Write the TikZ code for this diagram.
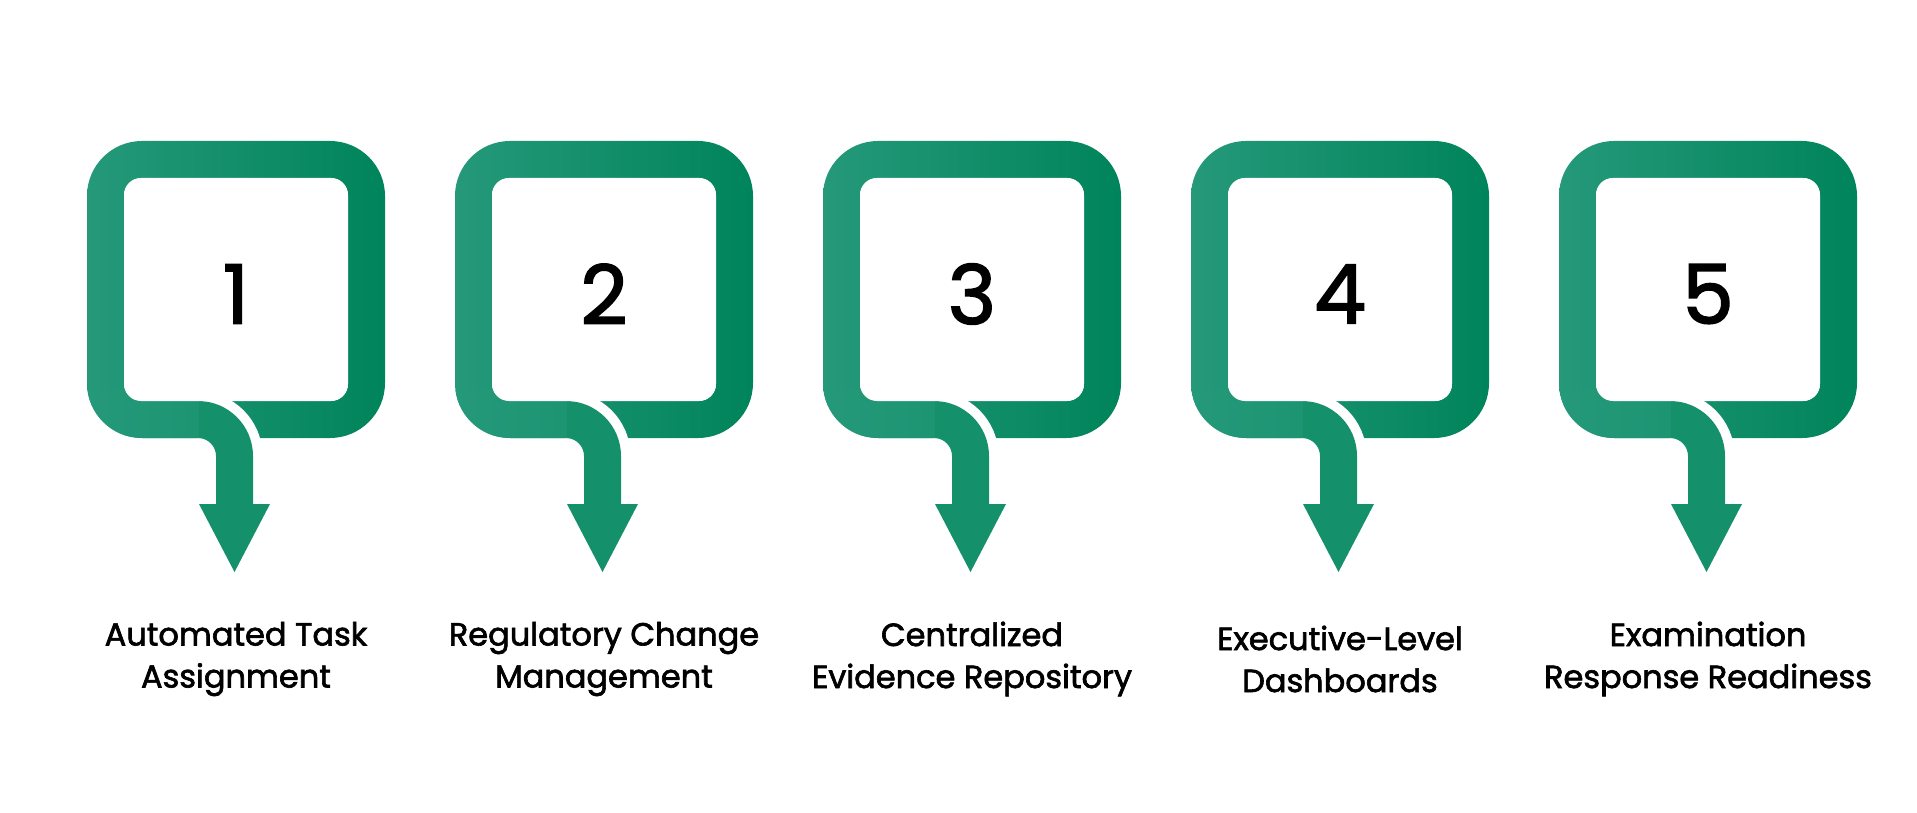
\documentclass[tikz,border=0pt]{standalone}
\usepackage{fontspec}
\setmainfont{Poppins}
\newfontfamily\lblfont{Poppins}[FakeBold=2]
\definecolor{gL}{HTML}{25997A}
\definecolor{gR}{HTML}{00845A}
\definecolor{gM}{HTML}{14906A}
\begin{document}
\begin{tikzpicture}[x=1pt,y=-1pt]
\useasboundingbox[fill=white] (0,0) rectangle (1917,813);
\tikzset{
  num/.style={font=\lblfont\fontsize{82}{82}\selectfont, text=black, inner sep=0},
  lbl/.style={font=\lblfont\fontsize{32}{42}\selectfont, text=black, align=center, inner sep=0}
}
\foreach \i/\a/\b in {1/Automated Task/Assignment, 2/Regulatory Change/Management, 3/Centralized/Evidence Repository, 4/Executive-Level/Dashboards, 5/Examination/Response Readiness}{
  \begin{scope}[xshift=368*(\i-1)]
    \shade[left color=gL, right color=gR, even odd rule]
      [rounded corners=55] (87,141) rectangle (385,438)
      [rounded corners=17] (124,178) rectangle (348,401);
    \draw[white, line width=56] (198,419.5) arc[start angle=-90, end angle=0, radius=36.5] -- (234.5,504);
    \fill[gM] (198,401) arc[start angle=-90, end angle=0, radius=55] -- (253,504) -- (216,504) -- (216,456) arc[start angle=0, end angle=-90, radius=18] -- cycle;
    \begin{scope}
      \clip (87,390) rectangle (199,438);
      \shade[left color=gL, right color=gM, rounded corners=55] (87,141) rectangle (310,438);
    \end{scope}
    \fill[white, rounded corners=17] (124,178) rectangle (348,401);
    \fill[gM] (199,504) -- (270,504) -- (234.5,572) -- cycle;
    \node[num] (n\i) at (236,294) {\i};
    \node[lbl] (t\i) at (236,659) {\a\\\b};
  \end{scope}
}
\end{tikzpicture}
\end{document}
